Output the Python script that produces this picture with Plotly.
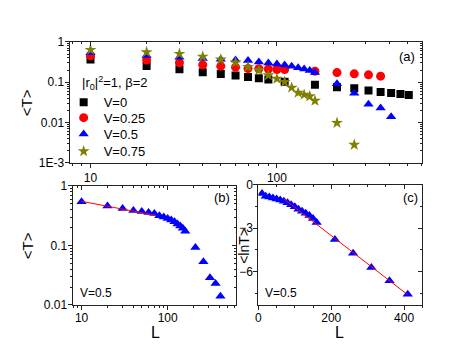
import plotly.graph_objects as go

# ---------------- data ----------------
L_v0 = [10, 20, 30, 40, 50, 60, 70, 80, 90, 110, 160, 210, 260, 310, 360, 410, 460, 510]
T_v0 = [0.363, 0.254, 0.21, 0.176, 0.159, 0.147, 0.134, 0.125, 0.116, 0.102, 0.0862,
        0.0747, 0.0706, 0.0622, 0.0569, 0.0537, 0.0512, 0.0482]

L_v025 = [10, 20, 30, 40, 50, 60, 70, 80, 90, 100, 110, 160, 210, 260, 310, 360]
T_v025 = [0.452, 0.353, 0.304, 0.268, 0.25, 0.236, 0.219, 0.216, 0.212, 0.207, 0.207,
          0.188, 0.173, 0.161, 0.152, 0.141]

L_v05 = [10, 20, 30, 40, 50, 60, 70, 80, 90, 100, 110, 120, 130, 140, 150, 160,
         210, 260, 310, 360, 410]
T_v05 = [0.54, 0.458, 0.415, 0.385, 0.371, 0.357, 0.344, 0.316, 0.301, 0.283, 0.266,
         0.25, 0.229, 0.212, 0.195, 0.173, 0.092, 0.053, 0.0285, 0.0228, 0.014]
lnT_v05 = [-0.6, -0.78, -0.84, -0.91, -0.98, -1.04, -1.13, -1.24, -1.38, -1.51, -1.69,
           -1.82, -1.96, -2.11, -2.33, -2.6, -3.78, -4.73, -5.71, -6.62, -7.56]

L_v075 = [10, 20, 30, 40, 50, 60, 70, 80, 90, 100, 110, 120, 130, 140, 150, 160, 210, 260]
T_v075 = [0.634, 0.556, 0.504, 0.432, 0.367, 0.311, 0.24, 0.2, 0.149, 0.122, 0.102,
          0.073, 0.0547, 0.049, 0.0447, 0.0347, 0.0098, 0.0028]

fit_b_L = [10, 72]
fit_b_T = [0.55, 0.32]
fit_c_L = [70, 410]
fit_c_lnT = [-0.97, -7.6]

a_yticks = [1, 0.1, 0.01, 0.001]
a_yticktext = ["1", "0.1", "0.01", "1E-3"]
log_xticks = [10, 100]
log_xticktext = ["10", "100"]
b_yticks = [1, 0.1, 0.01]
b_yticktext = ["1", "0.1", "0.01"]
c_xticks = [0, 200, 400]
c_yticks = [0, -3, -6]

# ---------------- layout helpers ----------------
# the page body adds an 8 px margin; positions below are window pixels
OFF = 8
W, H = 469 - OFF, 358 - OFF
def fx(p):
    return (p - OFF) / W
def fy(p):
    return 1 - (p - OFF) / H

dom_a_x = [fx(67), fx(422)]
dom_a_y = [fy(162), fy(36)]
dom_b_x = [fx(70), fx(234)]
dom_b_y = [fy(310), fy(186)]
dom_c_x = [fx(257), fx(422)]
dom_c_y = [fy(310), fy(185)]

FONT = "Liberation Sans, Arial, sans-serif"
AXC = "#222222"

fig = go.Figure()

mk = dict(line=dict(width=0))
fig.add_trace(go.Scatter(x=L_v0, y=T_v0, mode="markers", name="V=0", legend="legend",
                         marker=dict(symbol="square", size=8, color="#000000", **mk),
                         xaxis="x", yaxis="y"))
fig.add_trace(go.Scatter(x=L_v025, y=T_v025, mode="markers", name="V=0.25", legend="legend2",
                         marker=dict(symbol="circle", size=9, color="#ff0000", **mk),
                         xaxis="x", yaxis="y"))
fig.add_trace(go.Scatter(x=L_v05, y=T_v05, mode="markers", name="V=0.5", legend="legend3",
                         marker=dict(symbol="triangle-up", size=9, color="#0000ff", **mk),
                         xaxis="x", yaxis="y"))
fig.add_trace(go.Scatter(x=L_v075, y=T_v075, mode="markers", name="V=0.75", legend="legend4",
                         marker=dict(symbol="star", size=9, color="#808000", **mk),
                         xaxis="x", yaxis="y"))

# panel (b)
fig.add_trace(go.Scatter(x=L_v05, y=T_v05, mode="markers", showlegend=False,
                         marker=dict(symbol="triangle-up", size=9, color="#0000ff", **mk),
                         xaxis="x2", yaxis="y2"))
fig.add_trace(go.Scatter(x=fit_b_L, y=fit_b_T, mode="lines", showlegend=False,
                         line=dict(color="#ff0000", width=1), xaxis="x2", yaxis="y2"))
# panel (c)
fig.add_trace(go.Scatter(x=L_v05, y=lnT_v05, mode="markers", showlegend=False,
                         marker=dict(symbol="triangle-up", size=9, color="#0000ff", **mk),
                         xaxis="x3", yaxis="y3"))
fig.add_trace(go.Scatter(x=fit_c_L, y=fit_c_lnT, mode="lines", showlegend=False,
                         line=dict(color="#ff0000", width=1), xaxis="x3", yaxis="y3"))

tickfont = dict(family=FONT, size=12, color="black")
def base_axis(**kw):
    d = dict(showline=True, linecolor=AXC, linewidth=1, mirror=True,
             ticks="outside", ticklen=4, tickcolor=AXC, tickwidth=1,
             showgrid=False, zeroline=False, tickfont=tickfont)
    d.update(kw)
    return d

def log_minor(direction):
    return dict(ticks=direction, ticklen=2, tickcolor=AXC, dtick="D1", showgrid=False)

def lin_minor(direction, dt):
    return dict(ticks=direction, ticklen=2, tickcolor=AXC, dtick=dt, showgrid=False)

ax_a_x = dict(type="log", range=[0.888, 2.78])
ax_a_y = dict(type="log", range=[-3, 0])
ax_b_x = dict(type="log", range=[0.896, 2.788])
ax_b_y = dict(type="log", range=[-2, 0])
ax_c_x = dict(type="linear", range=[0, 450])
ax_c_y = dict(type="linear", range=[-8.3, 0])

def leg(row_y):
    return dict(x=fx(61), y=fy(row_y), xanchor="left", yanchor="middle",
                bgcolor="rgba(0,0,0,0)", borderwidth=0,
                font=dict(family=FONT, size=13, color="black"), itemwidth=30)

layout = dict(
    width=W, height=H, margin=dict(l=0, r=0, t=0, b=0),
    paper_bgcolor="white", plot_bgcolor="white",
    font=dict(family=FONT, size=12, color="black"),
    showlegend=True,
    legend=leg(99), legend2=leg(115), legend3=leg(132), legend4=leg(150),
    xaxis=base_axis(domain=dom_a_x, anchor="y", tickvals=log_xticks, ticktext=log_xticktext,
                    minor=log_minor("outside"), **ax_a_x),
    yaxis=base_axis(domain=dom_a_y, anchor="x", tickvals=a_yticks, ticktext=a_yticktext,
                    minor=log_minor("outside"), ticklabelstandoff=-2, **ax_a_y),
    xaxis2=base_axis(domain=dom_b_x, anchor="y2", tickvals=log_xticks, ticktext=log_xticktext,
                     minor=log_minor("outside"), ticklabelstandoff=-2, **ax_b_x),
    yaxis2=base_axis(domain=dom_b_y, anchor="x2", tickvals=b_yticks, ticktext=b_yticktext,
                     minor=log_minor("outside"), ticklabelstandoff=-2, **ax_b_y),
    xaxis3=base_axis(domain=dom_c_x, anchor="y3", tickvals=c_xticks,
                     minor=lin_minor("outside", 50), ticklabelstandoff=-2, **ax_c_x),
    yaxis3=base_axis(domain=dom_c_y, anchor="x3", tickvals=c_yticks,
                     minor=lin_minor("outside", 1.5), ticklabelstandoff=-2, **ax_c_y),
)

# inward ticks on top/right via overlay axes
def overlay_x(over, anchor, rng, tickvals, minor):
    return dict(overlaying=over, anchor=anchor, side="top", showline=False,
                ticks="inside", ticklen=4, tickcolor=AXC, showticklabels=False,
                showgrid=False, zeroline=False, tickvals=tickvals, minor=minor, **rng)

def overlay_y(over, anchor, rng, tickvals, minor):
    return dict(overlaying=over, anchor=anchor, side="right", showline=False,
                ticks="inside", ticklen=4, tickcolor=AXC, showticklabels=False,
                showgrid=False, zeroline=False, tickvals=tickvals, minor=minor, **rng)

layout["xaxis4"] = overlay_x("x", "y", ax_a_x, log_xticks, log_minor("inside"))
layout["yaxis4"] = overlay_y("y", "x", ax_a_y, a_yticks, log_minor("inside"))
layout["xaxis5"] = overlay_x("x2", "y2", ax_b_x, log_xticks, log_minor("inside"))
layout["yaxis5"] = overlay_y("y2", "x2", ax_b_y, b_yticks, log_minor("inside"))
layout["xaxis6"] = overlay_x("x3", "y3", ax_c_x, c_xticks, lin_minor("inside", 50))
layout["yaxis6"] = overlay_y("y3", "x3", ax_c_y, c_yticks, lin_minor("inside", 1.5))

fig.update_layout(**layout)

for xa, ya in [("x4", "y4"), ("x5", "y5"), ("x6", "y6")]:
    fig.add_trace(go.Scatter(x=[], y=[], mode="markers", showlegend=False,
                             hoverinfo="skip", xaxis=xa, yaxis=ya))

def ann(text, x, y, size=13, angle=0, xanchor="center"):
    fig.add_annotation(text=text, x=fx(x), y=fy(y), xref="paper", yref="paper",
                       showarrow=False, textangle=angle, xanchor=xanchor, yanchor="middle",
                       font=dict(family=FONT, size=size, color="black"))

ann("&lt;T&gt;", 23, 99, size=15, angle=-90)
ann("&lt;T&gt;", 25, 248, size=15, angle=-90)
ann("&lt;lnT&gt;", 243, 248, size=14, angle=-90)
ann("L", 153, 339, size=16)
ann("L", 339, 339, size=16)
ann("(a)", 407, 51, size=13)
ann("(b)", 220, 198, size=13)
ann("(c)", 410, 198, size=13)
ann("V=0.5", 75, 298, size=12, xanchor="left")
ann("V=0.5", 262, 298, size=12, xanchor="left")
ann("|r<sub>0</sub>|<sup>2</sup>=1, β=2", 77, 79, size=13, xanchor="left")

fig.write_html("out.html")
